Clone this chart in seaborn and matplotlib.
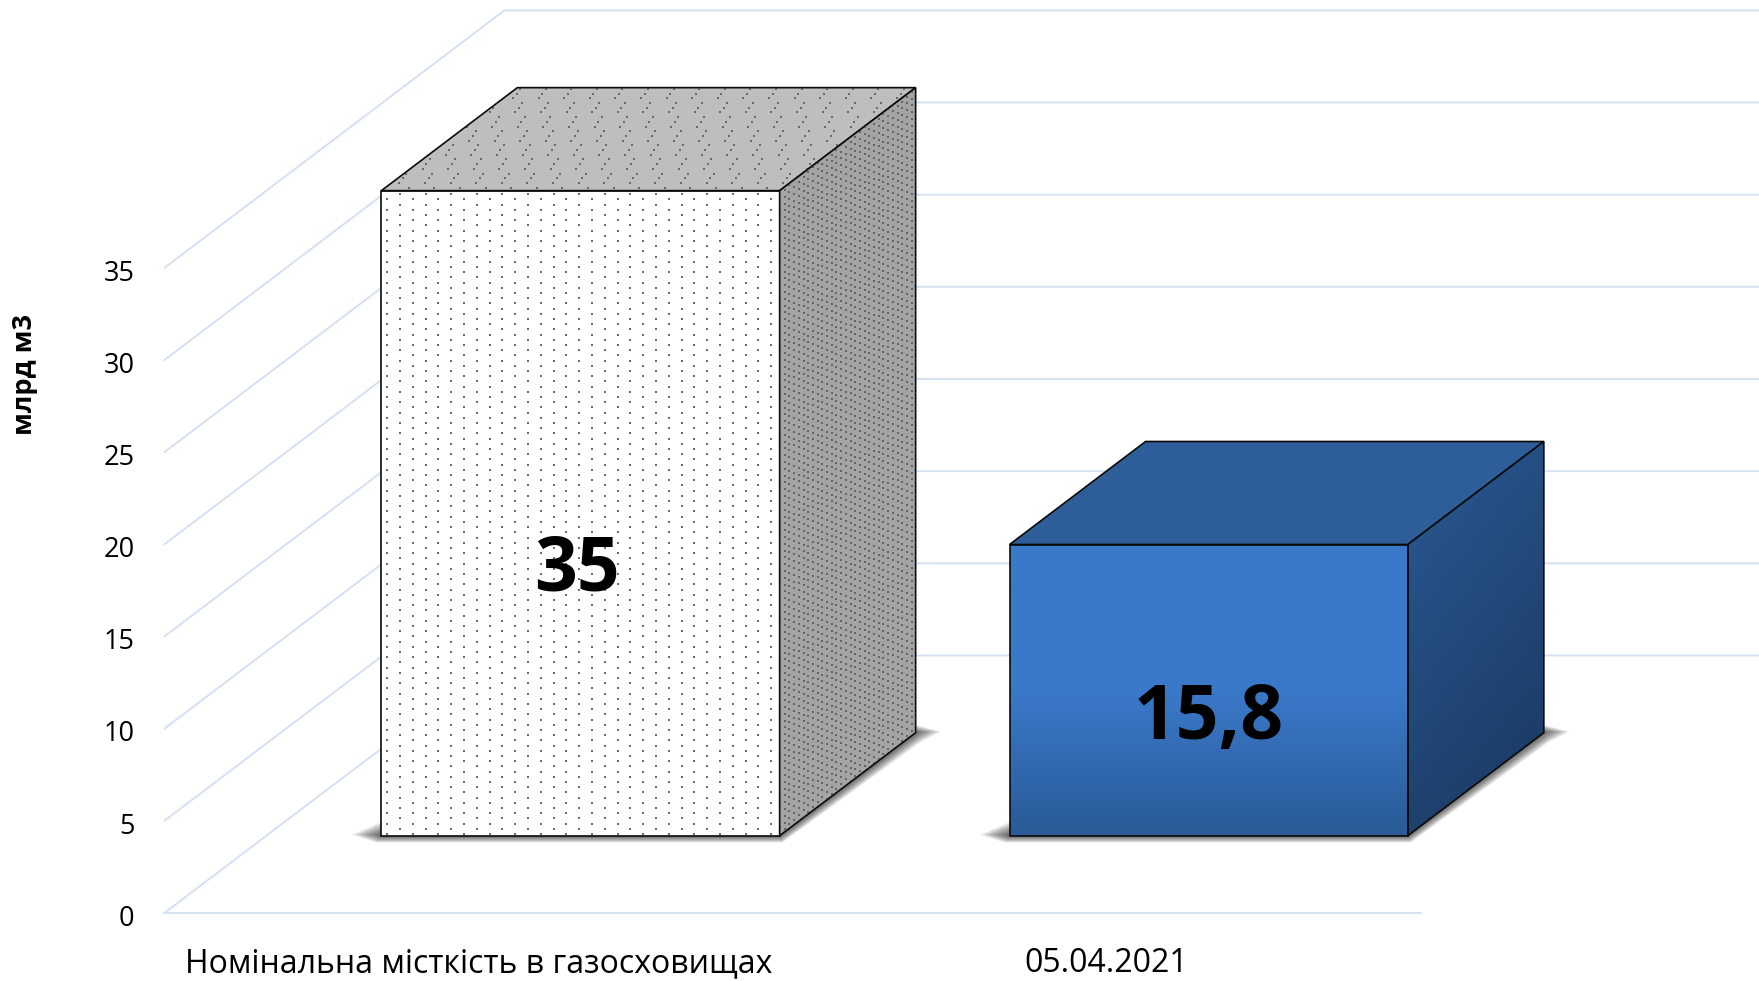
import numpy as np
import matplotlib
matplotlib.use("Agg")
import matplotlib.pyplot as plt
from matplotlib.colors import LinearSegmentedColormap
from matplotlib.patches import Polygon
import seaborn as sns

# Chart data
categories = ["Номінальна місткість в газосховищах", "05.04.2021"]
values = [35, 15.8]
value_labels = ["35", "15,8"]
y_ticks = [0, 5, 10, 15, 20, 25, 30, 35]
y_label = "млрд м3"

W, H = 1759, 981
PX_PER_CAT = 628.2
PX_PER_UNIT = 18.43
ZERO_X = 580.5
ZERO_Y = 835.7

# one unit of depth (the bar's own depth) on screen
DEPTH_X = 136 / PX_PER_CAT
DEPTH_Y = 103 / PX_PER_UNIT
FLOOR_FRONT = -0.75
FLOOR_BACK = 1.75
BAR_WIDTH = 0.634

GRID = "#D5E1F2"
BLACK = "#0A0A0A"

sns.set_theme(style="white")
plt.rcParams["font.family"] = ["Open Sans", "Noto Sans", "DejaVu Sans"]

fig = plt.figure(figsize=(W / 100, H / 100), dpi=100)
ax = fig.add_axes([0, 0, 1, 1])

sns.barplot(x=categories, y=values, hue=categories, palette=["#FFFFFF", "#3A78C8"],
            width=BAR_WIDTH, saturation=1, legend=False, ax=ax, zorder=2,
            edgecolor=BLACK, linewidth=1.2)

xlim = (-ZERO_X / PX_PER_CAT, (W - ZERO_X) / PX_PER_CAT)
ylim = ((ZERO_Y - H) / PX_PER_UNIT, ZERO_Y / PX_PER_UNIT)


def project(x, v, depth=0):
    return x + depth * DEPTH_X, v + depth * DEPTH_Y


def to_data(px, py):
    return (np.asarray(px) - ZERO_X) / PX_PER_CAT, (ZERO_Y - np.asarray(py)) / PX_PER_UNIT


# Walls and floor
for t in y_ticks:
    xs, ys = zip(project(-0.5, t, FLOOR_FRONT), project(-0.5, t, FLOOR_BACK), project(1.5, t, FLOOR_BACK))
    ax.plot(xs, ys, color=GRID, lw=1.4, zorder=1, solid_joinstyle="miter")
    px, py = project(-0.5, t, FLOOR_FRONT)
    ax.text(px - 30 / PX_PER_CAT, py - 5.7 / PX_PER_UNIT, str(t), ha="right", va="center",
            fontsize=19.5, color="black")
xs, ys = zip(project(-0.5, 0, FLOOR_FRONT), project(1.5, 0, FLOOR_FRONT))
ax.plot(xs, ys, color=GRID, lw=1.4, zorder=1)


def shadow(x0, x1):
    # soft shadow under the bar, built up from thin layers
    xl = ZERO_X + x0 * PX_PER_CAT
    xr = ZERO_X + x1 * PX_PER_CAT
    xb = xr + 136
    yb = ZERO_Y - 103
    for t in np.linspace(1, 0.05, 20):
        pts = [to_data(xl, ZERO_Y - 14 * t), to_data(xl - 30 * t, ZERO_Y - 1),
               to_data(xl - 5 * t, ZERO_Y + 7 * t), to_data(xr + 3 * t, ZERO_Y + 7 * t),
               to_data(xb + 6 * t, yb + 9 * t), to_data(xb + 26 * t, yb - 1),
               to_data(xb, yb - 8 * t)]
        ax.add_patch(Polygon(pts, closed=True, fc="black", ec="none", alpha=0.04, zorder=1.5))


faces = []
for i, (bar, v) in enumerate(zip(ax.patches, values)):
    x0, x1 = i - BAR_WIDTH / 2, i + BAR_WIDTH / 2
    shadow(x0, x1)
    top = [project(x0, v), project(x1, v), project(x1, v, 1), project(x0, v, 1)]
    side = [project(x1, 0), project(x1, v), project(x1, v, 1), project(x1, 0, 1)]
    faces.append((top, side))

# Grey dotted bar
top, side = faces[0]
top_p = ax.add_patch(Polygon(top, closed=True, fc="#BEBEBE", ec=BLACK, lw=1.2, zorder=2))
side_p = ax.add_patch(Polygon(side, closed=True, fc="#A4A4A4", ec=BLACK, lw=1.2, zorder=2))

jj, ii = np.meshgrid(np.arange(125), np.arange(-1, 18))
fx = 374.4 + 12.8 * (jj % 2) + 25.6 * ii
fy = 194.3 + 5.2 * jj
sc = ax.scatter(*to_data(fx.ravel(), fy.ravel()), marker="_", s=3, lw=1.1, color="#222222", alpha=0.85, zorder=3)
sc.set_clip_path(ax.patches[0])

jj, ii = np.meshgrid(np.arange(24), np.arange(-6, 18))
tx = 520 + 25.6 * ii - 4.3 * (jj % 3) + 0.8 * jj
ty = 89 + 4.7 * jj
sc = ax.scatter(*to_data(tx.ravel(), ty.ravel()), marker="_", s=3.5, lw=1.1, color="#333333", alpha=0.6, zorder=3)
sc.set_clip_path(top_p)

jj, ii = np.meshgrid(np.arange(-40, 115), np.arange(30))
sx = 780 + 4.7 * ii
sy = 195 + 1.9 * ii + 6.8 * jj
sc = ax.scatter(*to_data(sx.ravel(), sy.ravel()), marker="s", s=1.1, lw=0, color="#3A3A3A", alpha=0.6, zorder=3)
sc.set_clip_path(side_p)

# Blue bar with gradients
top, side = faces[1]
blue = ax.patches[1]
ax.add_patch(Polygon(top, closed=True, fc="#2D5E99", ec=BLACK, lw=1.2, zorder=2))
side_p = ax.add_patch(Polygon(side, closed=True, fc="none", ec=BLACK, lw=1.2, zorder=3))

front_cmap = LinearSegmentedColormap.from_list("front", ["#3A79C9", "#3A79C9", "#2A5A97"])
im = ax.imshow(np.linspace(0, 1, 256).reshape(-1, 1), cmap=front_cmap, aspect="auto", origin="upper",
               extent=(1 - BAR_WIDTH / 2, 1 + BAR_WIDTH / 2, 0, values[1]), zorder=2.1)
im.set_clip_path(blue)
blue.set_zorder(3)
blue.set_facecolor("none")

side_cmap = LinearSegmentedColormap.from_list("side", ["#2A5A94", "#19375E"])
grad = np.add.outer(np.linspace(0, 0.7, 128), np.linspace(0, 0.3, 64))
xs = [p[0] for p in side]
ys = [p[1] for p in side]
im = ax.imshow(grad, cmap=side_cmap, vmin=0, vmax=1, aspect="auto", origin="upper",
               extent=(min(xs), max(xs), min(ys), max(ys)), zorder=2.1)
im.set_clip_path(side_p)

# Value labels and axis text
label_shift = [-4, 0]
for i, (v, lab) in enumerate(zip(values, value_labels)):
    ax.text(i + label_shift[i] / PX_PER_CAT, v * 0.42 - 6 / PX_PER_UNIT, lab, ha="center", va="center",
            fontsize=54, fontweight="bold", color="black", zorder=5)

for i, lab in enumerate(categories):
    px, py = project(i, -2.6, FLOOR_FRONT)
    ax.text(px, py - 3 / PX_PER_UNIT, lab, ha="center", va="center", fontsize=23, color="black")

ax.text(*to_data(25, 375), y_label, rotation=90, ha="center", va="center",
        fontsize=19.5, fontweight="bold", color="black")

ax.set_xlim(xlim)
ax.set_ylim(ylim)
ax.set_axis_off()

fig.savefig("out.png", dpi=100)
